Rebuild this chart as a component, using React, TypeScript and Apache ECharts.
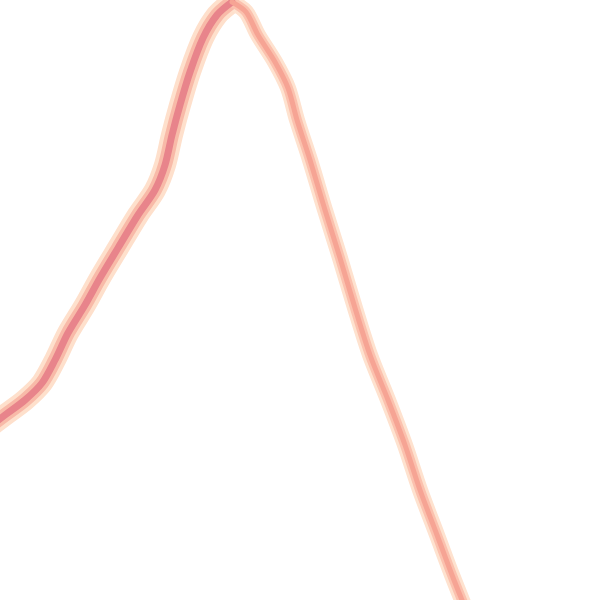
import React, { useEffect, useRef } from "react";
import * as echarts from "echarts";

const risingPath: [number, number][] = [
  [-15, 430], [5, 415], [25, 400], [42, 383], [55, 360], [68, 333], [85, 305],
  [100, 278], [118, 248], [138, 215], [155, 190], [165, 165], [172, 135],
  [180, 105], [190, 72], [203, 38], [217, 15], [232, 2],
];

// Falling part of the curve
const fallingPath: [number, number][] = [
  [232, 2], [246, 12], [258, 35], [275, 62], [288, 88], [297, 120], [310, 160],
  [325, 210], [340, 258], [355, 308], [370, 355], [388, 400], [405, 445],
  [420, 490], [437, 535], [452, 575], [468, 615],
];

const axisRange = [0, 600];

function band(data: [number, number][], width: number, color: string, z: number) {
  return {
    type: "line",
    data,
    showSymbol: false,
    symbol: "none",
    smooth: 0.3,
    silent: true,
    z,
    lineStyle: { width, color, cap: "round", join: "round" },
  };
}

export default function App() {
  const ref = useRef<HTMLDivElement>(null);
  useEffect(() => {
    if (!ref.current) return;
    const chart = echarts.init(ref.current, null, { renderer: "svg" });
    chart.setOption({
      animation: false,
      backgroundColor: "#ffffff",
      grid: { left: 0, right: 0, top: 0, bottom: 0 },
      xAxis: { type: "value", min: axisRange[0], max: axisRange[1], show: false },
      yAxis: { type: "value", min: axisRange[0], max: axisRange[1], inverse: true, show: false },
      series: [
        band(risingPath, 22, "#fee0cc", 1),
        band(fallingPath, 16, "#fee2cf", 1),
        band(risingPath, 14, "#f8baa8", 2),
        band(fallingPath, 10, "#fbc1ae", 2),
        band(risingPath, 7, "#e8848b", 3),
        band(fallingPath, 5, "#f6a494", 3),
      ],
    });
    return () => chart.dispose();
  }, []);
  return (
    <div
      ref={ref}
      style={{ position: "fixed", left: 0, top: 0, width: 600, height: 600 }}
    />
  );
}
